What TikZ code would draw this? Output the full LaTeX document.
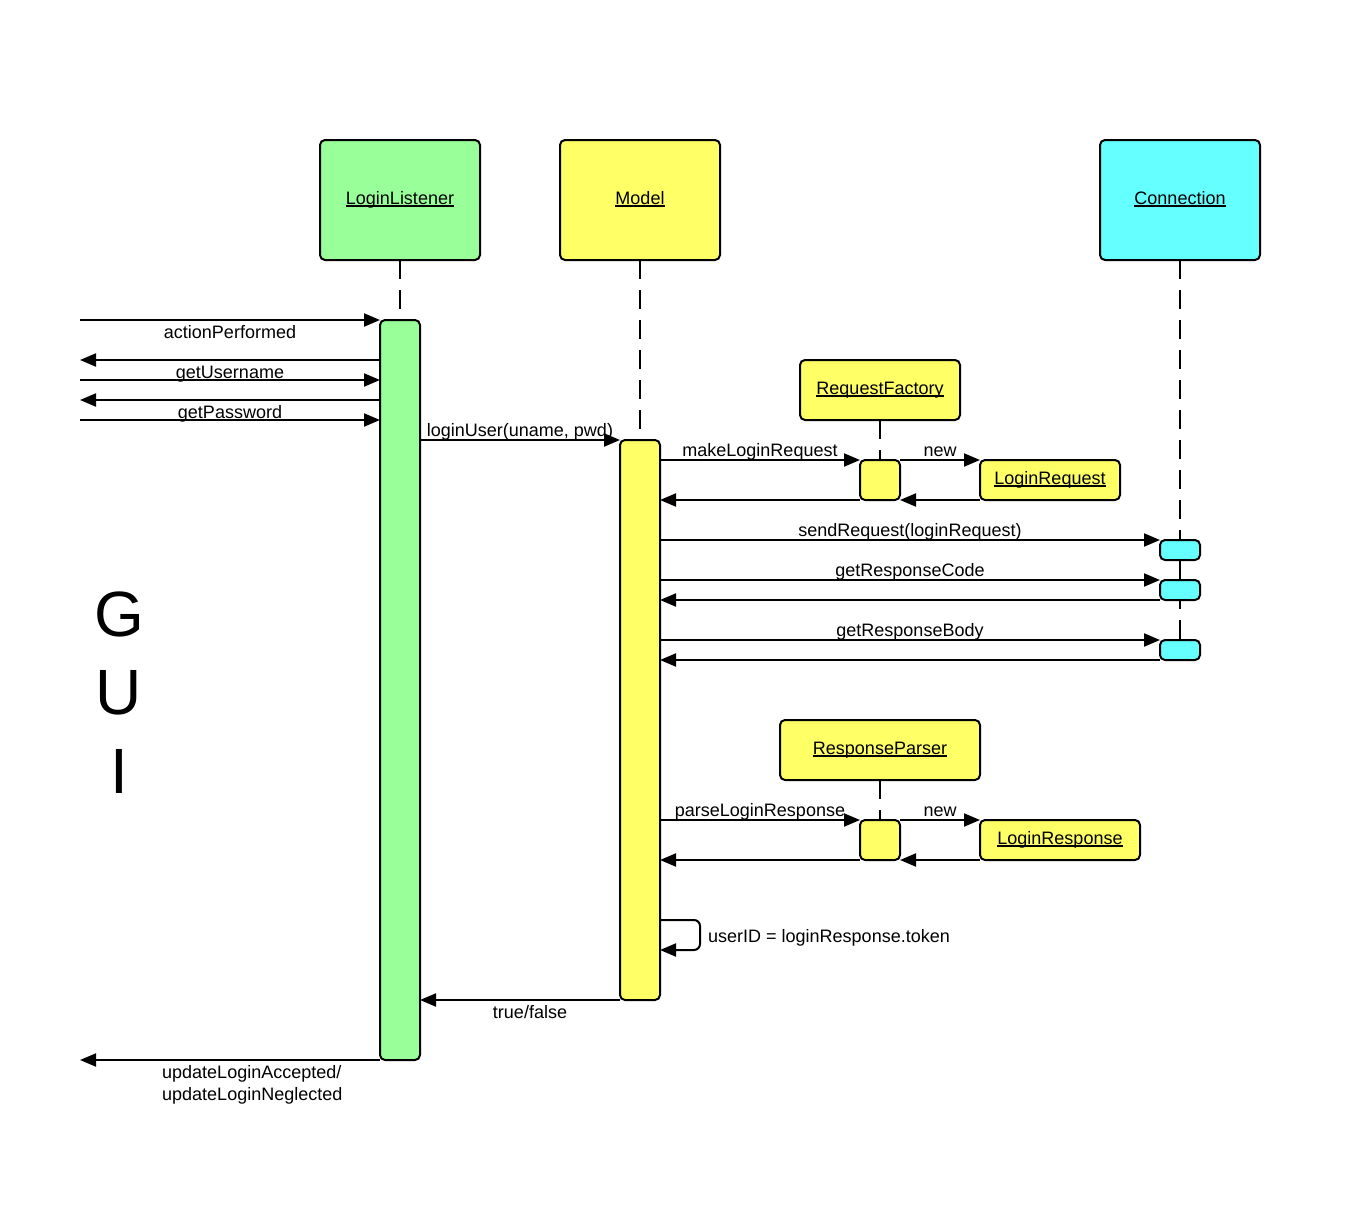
\documentclass[tikz,border=0pt]{standalone}
\usepackage{fontspec}
\setmainfont{Liberation Sans}
\usetikzlibrary{arrows.meta,calc}

\definecolor{llgreen}{HTML}{99FF99}
\definecolor{mdyellow}{HTML}{FFFF66}
\definecolor{cncyan}{HTML}{66FFFF}

% underlined object name, rule drawn just under the baseline
\newcommand\objname[1]{\leavevmode\setbox0\hbox{#1}\rlap{\rule[-2.3pt]{\wd0}{1.3pt}}\box0}

\begin{document}
\begin{tikzpicture}[x=1pt,y=-1pt,
  every node/.style={font=\fontsize{18}{21}\selectfont, inner sep=0pt},
  objbox/.style={draw, line width=2pt, outer sep=0pt, rounded corners=5pt, text height=13pt, text depth=4.5pt},
  actbar/.style={draw, line width=2pt, outer sep=0pt, rounded corners=5pt, inner sep=0pt},
  lifeline/.style={line width=2pt, dash pattern=on 19pt off 11pt},
  msg/.style={line width=2pt, -{Triangle[length=16pt,width=13pt]}},
  lbl/.style={anchor=base},
  big/.style={anchor=base, font=\fontsize{64}{64}\selectfont}
]
\useasboundingbox (0,0) rectangle (1360,1207);

% participants
\node[objbox, fill=llgreen, minimum width=160pt, minimum height=120pt] (LL) at (400,200) {\objname{LoginListener}};
\node[objbox, fill=mdyellow, minimum width=160pt, minimum height=120pt] (MD) at (640,200) {\objname{Model}};
\node[objbox, fill=cncyan, minimum width=160pt, minimum height=120pt] (CN) at (1180,200) {\objname{Connection}};
\node[objbox, fill=mdyellow, minimum width=160pt, minimum height=60pt] (RF) at (880,390) {\objname{RequestFactory}};
\node[objbox, fill=mdyellow, minimum width=200pt, minimum height=60pt] (RP) at (880,750) {\objname{ResponseParser}};

% lifeline end points
\coordinate (llEnd) at (400,320);
\coordinate (mdEnd) at (640,440);
\coordinate (cnEnd) at (1180,660);
\coordinate (rfEnd) at (880,460);
\coordinate (rpEnd) at (880,820);

\draw[lifeline] (LL.south) -- (llEnd);
\draw[lifeline] (MD.south) -- (mdEnd);
\draw[lifeline] (CN.south) -- (cnEnd);
\draw[lifeline] (RF.south) -- (rfEnd);
\draw[lifeline] (RP.south) -- (rpEnd);

% activation bars
\node[actbar, fill=llgreen, minimum width=40pt, minimum height=740pt] (aLL) at (400,690) {};
\node[actbar, fill=mdyellow, minimum width=40pt, minimum height=560pt] (aMD) at (640,720) {};
\node[actbar, fill=mdyellow, minimum width=40pt, minimum height=40pt] (aRF) at (880,480) {};
\node[actbar, fill=mdyellow, minimum width=40pt, minimum height=40pt] (aRP) at (880,840) {};
\node[actbar, fill=cncyan, minimum width=40pt, minimum height=20pt] (aC1) at (1180,550) {};
\node[actbar, fill=cncyan, minimum width=40pt, minimum height=20pt] (aC2) at (1180,590) {};
\node[actbar, fill=cncyan, minimum width=40pt, minimum height=20pt] (aC3) at (1180,650) {};

% created objects
\node[objbox, fill=mdyellow, minimum width=140pt, minimum height=40pt] (LR) at (1050,480) {\objname{LoginRequest}};
\node[objbox, fill=mdyellow, minimum width=160pt, minimum height=40pt] (LS) at (1060,840) {\objname{LoginResponse}};

% GUI side of the conversation
\coordinate (g1) at (80,320);
\coordinate (g2) at (80,360);
\coordinate (g3) at (80,380);
\coordinate (g4) at (80,400);
\coordinate (g5) at (80,420);
\coordinate (g6) at (80,1060);

\draw[msg] (g1) -- (aLL.west |- g1);
\draw[msg] (aLL.west |- g2) -- (g2);
\draw[msg] (g3) -- (aLL.west |- g3);
\draw[msg] (aLL.west |- g4) -- (g4);
\draw[msg] (g5) -- (aLL.west |- g5);
\draw[msg] (aLL.west |- g6) -- (g6);

\node[lbl] at (230,338) {actionPerformed};
\node[lbl] at (230,378) {getUsername};
\node[lbl] at (230,418) {getPassword};
\node[anchor=base west] at (162,1078) {updateLoginAccepted/};
\node[anchor=base west] at (162,1100) {updateLoginNeglected};

% LoginListener <-> Model
\coordinate (m1) at (0,440);
\draw[msg] (aLL.east |- m1) -- (aMD.west |- m1);
\node[lbl] at (520,436) {loginUser(uname, pwd)};
\coordinate (m2) at (0,1000);
\draw[msg] (aMD.west |- m2) -- (aLL.east |- m2);
\node[lbl] at (530,1018) {true/false};

% request creation
\draw[msg] (aMD.east |- aRF.north) -- (aRF.north west);
\node[lbl] at (760,456) {makeLoginRequest};
\draw[msg] (aRF.north east) -- (LR.north west);
\node[lbl] at (940,456) {new};
\draw[msg] (LR.south west) -- (aRF.south east);
\draw[msg] (aRF.south west) -- (aMD.east |- aRF.south);

% connection calls
\draw[msg] (aMD.east |- aC1.north) -- (aC1.north west);
\node[lbl] at (910,536) {sendRequest(loginRequest)};
\draw[msg] (aMD.east |- aC2.north) -- (aC2.north west);
\node[lbl] at (910,576) {getResponseCode};
\draw[msg] (aC2.south west) -- (aMD.east |- aC2.south);
\draw[msg] (aMD.east |- aC3.north) -- (aC3.north west);
\node[lbl] at (910,636) {getResponseBody};
\draw[msg] (aC3.south west) -- (aMD.east |- aC3.south);

% response parsing
\draw[msg] (aMD.east |- aRP.north) -- (aRP.north west);
\node[lbl] at (760,816) {parseLoginResponse};
\draw[msg] (aRP.north east) -- (LS.north west);
\node[lbl] at (940,816) {new};
\draw[msg] (LS.south west) -- (aRP.south east);
\draw[msg] (aRP.south west) -- (aMD.east |- aRP.south);

% self call
\coordinate (s1) at (0,920);
\coordinate (s2) at (700,935);
\coordinate (s3) at (0,950);
\draw[msg, rounded corners=6pt] (aMD.east |- s1) -- (s2 |- s1) -- (s2 |- s3) -- (aMD.east |- s3);
\node[anchor=base west] at (708,942) {userID = loginResponse.token};

% side caption
\node[big] at (119,636) {G};
\node[big] at (119,714) {U};
\node[big] at (119,793) {I};
\end{tikzpicture}
\end{document}
